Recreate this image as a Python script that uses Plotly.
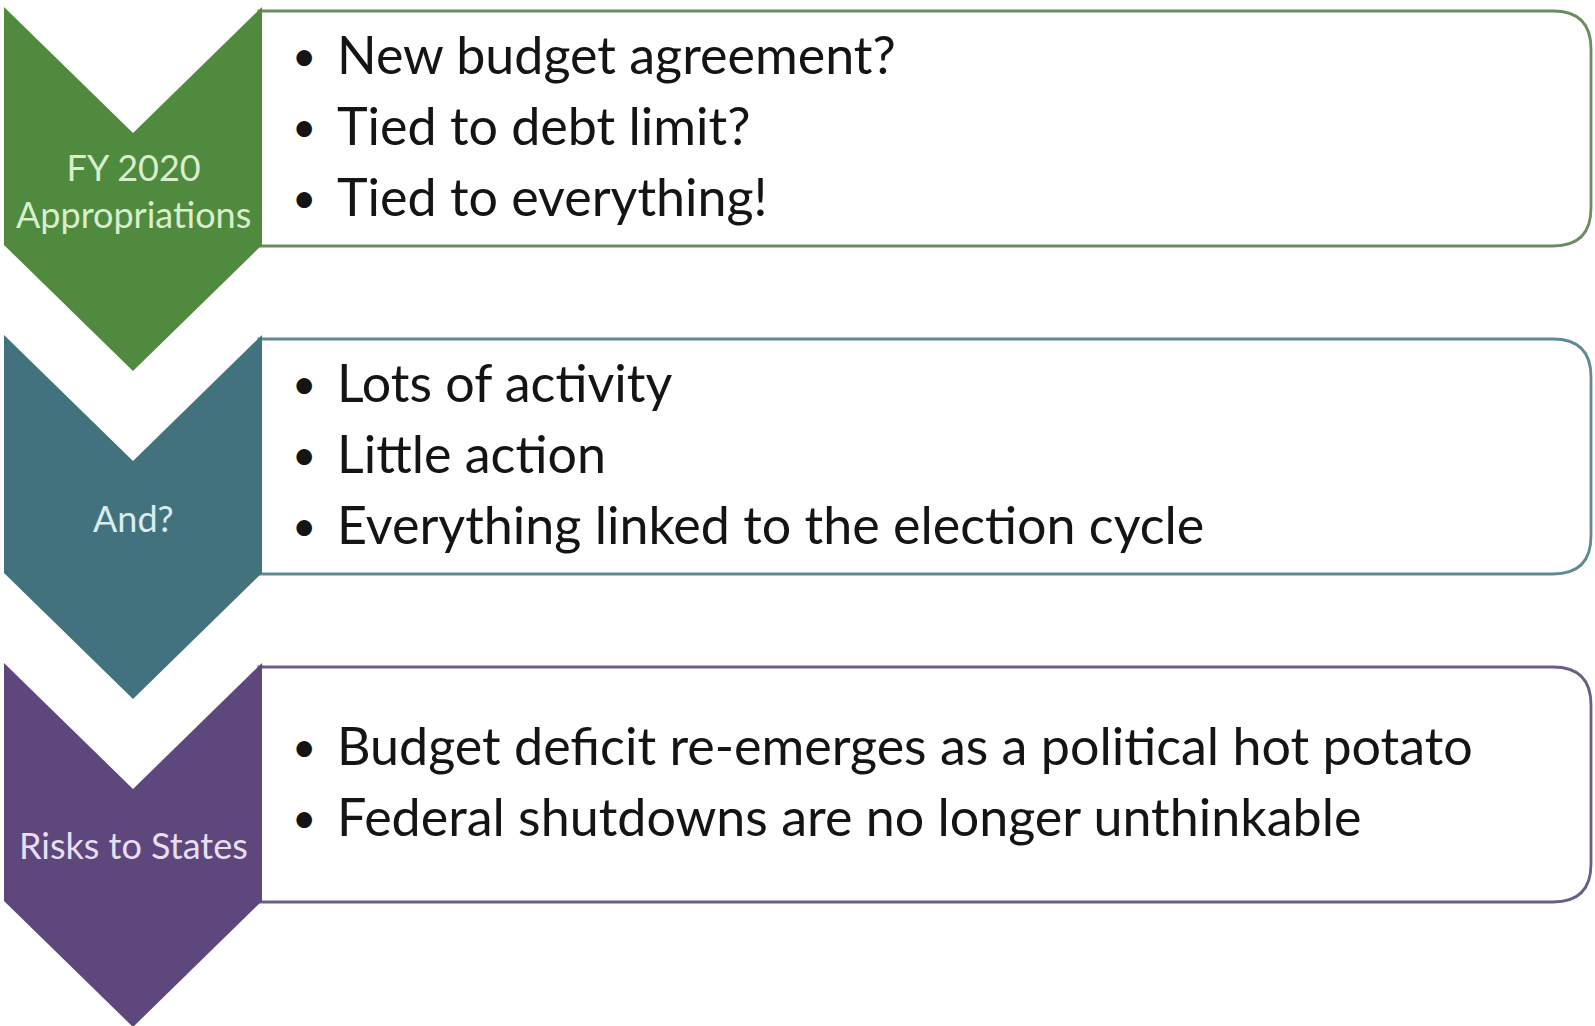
import plotly.graph_objects as go

# ---- data ----
stage_labels = ["FY 2020<br>Appropriations", "And?", "Risks to States"]
stage_colors = ["#4f8a3e", "#43727f", "#5e477c"]
label_colors = ["#d8eecd", "#d8ecf1", "#e8def2"]
border_colors = ["#6a8d60", "#5f8a93", "#6c5d88"]
bullets = [
    ["New budget agreement?", "Tied to debt limit?", "Tied to everything!"],
    ["Lots of activity", "Little action", "Everything linked to the election cycle"],
    ["Budget deficit re-emerges as a political hot potato",
     "Federal shutdowns are no longer unthinkable"],
]

W, H = 1595, 1026
FONT = "Lato, 'Open Sans', sans-serif"

# layout geometry
tops = [7, 335, 663]
CH_L, CH_R = 4, 262
CH_C = (CH_L + CH_R) / 2
NOTCH = 126
SIDE = 238
TIP = 364
BOX_R = 1591
RAD = 38
box_top_off, box_bot_off = 4, 239
line_gap = 71

fig = go.Figure()
shapes = []
annotations = []

for i, T in enumerate(tops):
    x0, x1 = CH_R - 3, BOX_R
    y0, y1 = T + box_top_off, T + box_bot_off
    p = (f"M {x0},{y0} L {x1-RAD},{y0} Q {x1},{y0} {x1},{y0+RAD} "
         f"L {x1},{y1-RAD} Q {x1},{y1} {x1-RAD},{y1} L {x0},{y1} Z")
    shapes.append(dict(type="path", path=p, xref="x", yref="y",
                       fillcolor="white", line=dict(color=border_colors[i], width=2.8),
                       layer="above"))
    c = (f"M {CH_L},{T} L {CH_C},{T+NOTCH} L {CH_R},{T} L {CH_R},{T+SIDE} "
         f"L {CH_C},{T+TIP} L {CH_L},{T+SIDE} Z")
    shapes.append(dict(type="path", path=c, xref="x", yref="y",
                       fillcolor=stage_colors[i], line=dict(width=0), layer="above"))

    label_y = [T + 183, T + 183, T + 182][i]
    annotations.append(dict(x=CH_C, y=label_y, xref="x", yref="y", text=stage_labels[i],
                            showarrow=False, xanchor="center", yanchor="middle",
                            font=dict(family=FONT, size=36, color=label_colors[i])))

    n = len(bullets[i])
    mid = T + (box_top_off + box_bot_off) / 2 - 4
    start = mid - (n - 1) * line_gap / 2
    for j, txt in enumerate(bullets[i]):
        yy = start + j * line_gap
        annotations.append(dict(x=304, y=yy + 1, xref="x", yref="y", text="•",
                                showarrow=False, xanchor="center", yanchor="middle",
                                font=dict(family=FONT, size=42, color="#141414")))
        annotations.append(dict(x=335, y=yy, xref="x", yref="y", text=txt,
                                showarrow=False, xanchor="left", yanchor="middle",
                                font=dict(family=FONT, size=52, color="#141414")))

fig.update_layout(
    width=W, height=H,
    margin=dict(l=0, r=0, t=0, b=0),
    paper_bgcolor="white", plot_bgcolor="white",
    xaxis=dict(range=[0, W], visible=False, fixedrange=True),
    yaxis=dict(range=[H, 0], visible=False, fixedrange=True),
    shapes=shapes, annotations=annotations, showlegend=False,
)
fig.write_html("out.html", config={"displayModeBar": False},
               post_script="document.body.style.margin='0';document.body.style.overflow='hidden';")
